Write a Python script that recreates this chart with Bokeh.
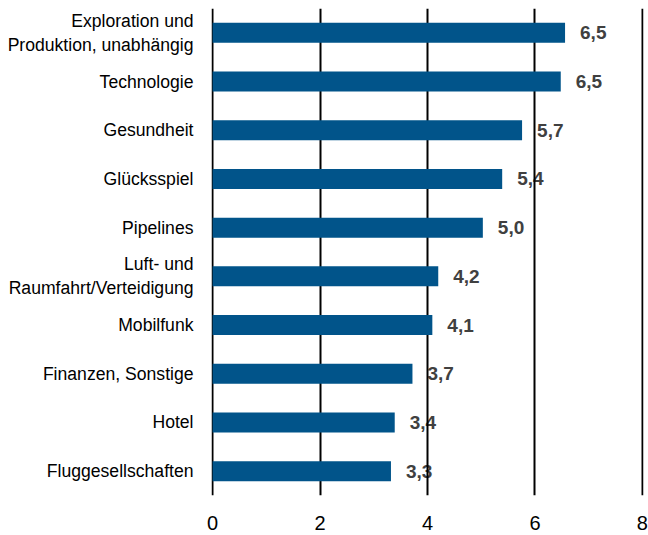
from bokeh.plotting import figure
from bokeh.models import ColumnDataSource, FixedTicker
from bokeh.core.properties import value
from bokeh.embed import file_html
from bokeh.resources import INLINE

categories = [
    "Exploration und\nProduktion, unabhängig",
    "Technologie",
    "Gesundheit",
    "Glücksspiel",
    "Pipelines",
    "Luft- und\nRaumfahrt/Verteidigung",
    "Mobilfunk",
    "Finanzen, Sonstige",
    "Hotel",
    "Fluggesellschaften",
]
values = [6.56, 6.48, 5.76, 5.39, 5.03, 4.20, 4.09, 3.72, 3.39, 3.32]
value_labels = ["6,5", "6,5", "5,7", "5,4", "5,0", "4,2", "4,1", "3,7", "3,4", "3,3"]
x_ticks = [0, 2, 4, 6, 8]

FONT = "Liberation Sans"

src = ColumnDataSource(dict(cat=categories, val=values, lab=value_labels))

p = figure(
    width=648, height=535,
    y_range=list(reversed(categories)),
    x_range=(-0.02, 8.02),
    output_backend="svg", toolbar_location=None,
    min_border_left=211, min_border_right=5, min_border_top=8, min_border_bottom=40,
)
p.outline_line_color = None
p.background_fill_color = "white"
p.border_fill_color = "white"

p.hbar(y="cat", right="val", left=0, height=0.41, source=src,
       fill_color="#01548A", line_color=None)

lbl = p.text(x="val", y="cat", text="lab", source=src, x_offset=15,
             text_align="left", text_baseline="middle",
             text_font=value(FONT), text_font_size="19px", text_font_style="bold",
             text_color="#404040")
lbl.level = "image"

p.xaxis.ticker = FixedTicker(ticks=x_ticks)
p.xaxis.axis_line_color = None
p.xaxis.major_tick_line_color = None
p.xaxis.minor_tick_line_color = None
p.xaxis.major_label_text_font = FONT
p.xaxis.major_label_text_font_size = "20px"
p.xaxis.major_label_text_color = "black"
p.xaxis.major_label_standoff = 14

p.yaxis.axis_line_color = None
p.yaxis.major_tick_line_color = None
p.yaxis.minor_tick_line_color = None
p.yaxis.major_label_text_font = FONT
p.yaxis.major_label_text_font_size = "17.6px"
p.yaxis.major_label_text_color = "black"
p.yaxis.major_label_standoff = 12

p.ygrid.grid_line_color = None
p.xgrid.grid_line_color = "black"
p.xgrid.grid_line_width = 2

open("out.html", "w").write(file_html(p, INLINE))
